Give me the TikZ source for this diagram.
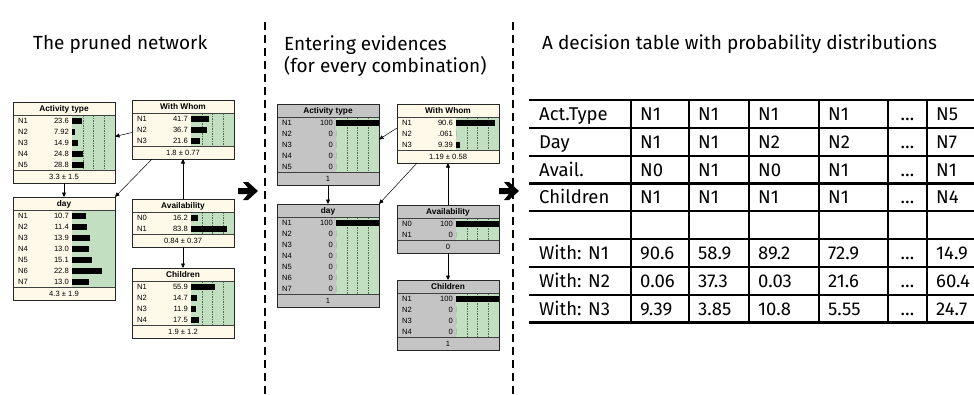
\documentclass[tikz,border=0pt]{standalone}
\usepackage{fontspec}
\setmainfont{Fira Sans}
\newfontfamily\netfont{Liberation Sans}
\usetikzlibrary{arrows.meta,calc}

\definecolor{netcream}{HTML}{FFF9EA}
\definecolor{netgreen}{HTML}{C2DFC2}
\definecolor{netgray}{HTML}{C4C4C4}
\definecolor{gridcol}{HTML}{4F6F4F}

\tikzset{
  netbox/.style={draw=black!85, line width=0.7pt, inner sep=0pt, outer sep=0pt,
    anchor=north west, minimum width=102pt},
  netlabel/.style={font=\netfont\fontsize{7.6}{8}\selectfont, inner sep=0pt},
  nettitle/.style={font=\netfont\bfseries\fontsize{8.3}{9}\selectfont, inner sep=0pt},
  link/.style={line width=0.5pt, -{Triangle[length=4.5pt,width=4pt]}},
  divider/.style={line width=1.8pt, dash pattern=on 8pt off 5pt},
  heading/.style={font=\fontsize{19}{22}\selectfont, inner sep=0pt},
  cell/.style={font=\fontsize{18.5}{20}\selectfont, inner sep=0pt, anchor=base west},
  tableline/.style={line width=2.2pt},
}

% gridlines on/off for the next probability box
\def\gridon{1}

% #1 name, #2 left, #3 top, #4 number of states, #5 title,
% #6 box colour, #7 footer text, #8 list label/value/bar length
\newcommand\netnode[8]{%
  \pgfmathsetmacro\nH{26+11*#4}%
  \pgfmathsetmacro\nR{#3+13+11*#4}%
  \node[netbox, fill=#6, minimum height=\nH pt] (#1) at (#2,#3) {};
  \fill[netgreen] (#2+59,#3+13) rectangle (#2+102,\nR);
  \ifnum\gridon=1
    \foreach \k in {1,2,3}
      \draw[gridcol, dash pattern=on 1.5pt off 1pt, line width=0.4pt]
        (#2+59+10.75*\k,#3+13) -- (#2+59+10.75*\k,\nR);
  \fi
  \draw[black!75, line width=0.5pt] (#2,#3+13) -- (#2+102,#3+13) (#2,\nR) -- (#2+102,\nR);
  \node[nettitle] (#1-t) at (#2+51,#3+7) {#5};
  \node[netlabel] (#1-f) at (#2+51,\nR+6.5) {#7};
  \foreach \lab/\pval/\barlen [count=\i] in {#8} {
    \pgfmathsetmacro\yy{#3+13+11*(\i-1)+5.5}
    \node[netlabel, anchor=west] (#1-l\i) at (#2+5,\yy) {\lab};
    \node[netlabel, anchor=east] (#1-v\i) at (#2+56,\yy) {\pval};
    \fill[black] (#2+59,\yy-3) rectangle ++(\barlen,6);
  }
  \draw[black!85, line width=0.7pt] (#1.north west) rectangle (#1.south east);
}

% heavy right arrow centred at (#1,#2)
\newcommand\heavyarrow[2]{%
  \fill[black] (#1,#2) ++(-10,-3) -- ++(10,0) -- ++(-5,-6) -- ++(5,0) -- ++(10,9)
    -- ++(-10,9) -- ++(-5,0) -- ++(5,-6) -- ++(-10,0) -- cycle;
}

\begin{document}
\begin{tikzpicture}[x=1pt, y=-1pt]
\useasboundingbox (0,0) rectangle (974,394);
\fill[white] (0,0) rectangle (974,394);

% section headings
\node[heading, anchor=west] (h1) at (33,44) {The pruned network};
\node[heading, anchor=west, align=left] (h2) at (284,56) {Entering evidences\\(for every combination)};
\node[heading, anchor=west] (h3) at (542,44) {A decision table with probability distributions};

% dashed separators
\coordinate (d1a) at (265,22); \coordinate (d1b) at (265,396);
\coordinate (d2a) at (513,22); \coordinate (d2b) at (513,396);
\draw[divider] (d1a) -- (d1b);
\draw[divider] (d2a) -- (d2b);

% ---------- the pruned network ----------
\netnode{act}{13}{102}{5}{Activity type}{netcream}{3.3 ± 1.5}
  {N1/23.6/10.1, N2/7.92/3.4, N3/14.9/6.4, N4/24.8/10.7, N5/28.8/12.4}
\def\gridon{0}
\netnode{day}{13}{197}{7}{day}{netcream}{4.3 ± 1.9}
  {N1/10.7/14, N2/11.4/15, N3/13.9/18.2, N4/13.0/17, N5/15.1/19.8, N6/22.8/29.9, N7/13.0/17}
\def\gridon{1}
\netnode{ww}{132}{100}{3}{With Whom}{netcream}{1.8 ± 0.77}
  {N1/41.7/17.9, N2/36.7/15.8, N3/21.6/9.3}
\netnode{av}{132}{199}{2}{Availability}{netcream}{0.84 ± 0.37}
  {N0/16.2/7.0, N1/83.8/36.0}
\netnode{ch}{132}{268}{4}{Children}{netcream}{1.9 ± 1.2}
  {N1/55.9/24.0, N2/14.7/6.3, N3/11.9/5.1, N4/17.5/7.5}

\draw[link] ([yshift=-3pt]ww.west) -- ([yshift=6pt]act.east);
\draw[link] ([xshift=20pt]ww.south west) -- (day.north east);
\draw[link] (act.south) -- (day.north);
\draw[link] (av.north) -- (ww.south);
\draw[link] (av.south) -- (ch.north);

% ---------- network with evidence entered ----------
\netnode{act2}{277}{104}{5}{Activity type}{netgray}{1}
  {N1/100/43, N2/0/0, N3/0/0, N4/0/0, N5/0/0}
\netnode{day2}{277}{204}{7}{day}{netgray}{1}
  {N1/100/43, N2/0/0, N3/0/0, N4/0/0, N5/0/0, N6/0/0, N7/0/0}
\netnode{ww2}{397}{104}{3}{With Whom}{netcream}{1.19 ± 0.58}
  {N1/90.6/39, N2/.061/0, N3/9.39/4}
\netnode{av2}{397}{205}{2}{Availability}{netgray}{0}
  {N0/100/43, N1/0/0}
\netnode{ch2}{397}{280}{4}{Children}{netgray}{1}
  {N1/100/43, N2/0/0, N3/0/0, N4/0/0}

\draw[link] ([yshift=5.5pt]ww2.west) -- ([yshift=5pt]act2.east);
\draw[link] ([xshift=20pt]ww2.south west) -- (day2.north east);
\draw[link] (act2.south) -- (day2.north);
\draw[link] (av2.north) -- (ww2.south);
\draw[link] (av2.south) -- (ch2.north);

% heavy arrows between the stages
\heavyarrow{248}{191}
\heavyarrow{509}{191}

% ---------- decision table ----------
\foreach \r in {0,...,8}
  \draw[tableline] (529,100+27.8*\r) -- (990,100+27.8*\r);
\foreach \cx in {631,689,749,819,888,927}
  \draw[tableline] (\cx,100) -- (\cx,322.4);

\foreach \lbl/\ca/\cb/\cc/\cd/\cf [count=\r] in
  {Act.Type/N1/N1/N1/N1/N5, Day/N1/N1/N2/N2/N7, Avail./N0/N1/N0/N1/N1, Children/N1/N1/N1/N1/N4}{
  \pgfmathsetmacro\ry{100+27.8*(\r-1)+20.5}
  \node[cell] (t\r-0) at (539,\ry) {\lbl};
  \node[cell] (t\r-1) at (640,\ry) {\ca};
  \node[cell] (t\r-2) at (698,\ry) {\cb};
  \node[cell] (t\r-3) at (758,\ry) {\cc};
  \node[cell] (t\r-4) at (828,\ry) {\cd};
  \node[cell, anchor=base] (t\r-5) at (907.5,\ry) {…};
  \node[cell] (t\r-6) at (936,\ry) {\cf};
}
\foreach \lbl/\ca/\cb/\cc/\cd/\cf [count=\q] in
  {With: N1/90.6/58.9/89.2/72.9/14.9, With: N2/0.06/37.3/0.03/21.6/60.4, With: N3/9.39/3.85/10.8/5.55/24.7}{
  \pgfmathsetmacro\ry{100+27.8*(\q+4)+20.5}
  \node[cell] (w\q-0) at (539,\ry) {\lbl};
  \node[cell] (w\q-1) at (640,\ry) {\ca};
  \node[cell] (w\q-2) at (698,\ry) {\cb};
  \node[cell] (w\q-3) at (758,\ry) {\cc};
  \node[cell] (w\q-4) at (828,\ry) {\cd};
  \node[cell, anchor=base] (w\q-5) at (907.5,\ry) {…};
  \node[cell] (w\q-6) at (936,\ry) {\cf};
}
\end{tikzpicture}
\end{document}
